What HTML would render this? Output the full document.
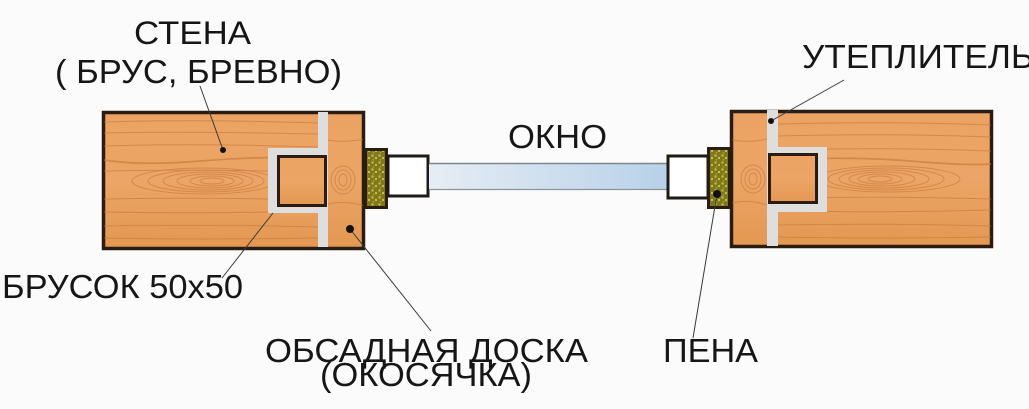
<!DOCTYPE html>
<html>
<head>
<meta charset="utf-8">
<style>
html,body{margin:0;padding:0;background:#fbfbfb;}
svg{display:block;}
text{font-family:"Liberation Sans","Noto Sans CJK SC",sans-serif;fill:#161616;}
</style>
</head>
<body>
<svg width="1029" height="409" viewBox="0 0 1029 409" xmlns="http://www.w3.org/2000/svg">
<defs>
  <linearGradient id="wood" x1="0" y1="0" x2="0" y2="1">
    <stop offset="0" stop-color="#eba363"/>
    <stop offset="0.5" stop-color="#eca566"/>
    <stop offset="1" stop-color="#e39852"/>
  </linearGradient>
  <linearGradient id="glass" x1="0" y1="0" x2="1" y2="0">
    <stop offset="0" stop-color="#e6edf4"/>
    <stop offset="1" stop-color="#b8d1e8"/>
  </linearGradient>
  <pattern id="foam" width="7" height="7" patternUnits="userSpaceOnUse">
    <rect width="7" height="7" fill="#7d781d"/>
    <circle cx="1.5" cy="1.5" r="1.2" fill="#c9b93a"/>
    <circle cx="5" cy="4" r="1.1" fill="#d6c446"/>
    <circle cx="2.5" cy="5.8" r="0.9" fill="#a99c2c"/>
  </pattern>
  <clipPath id="cl1"><rect x="104" y="113" width="214" height="135"/></clipPath>
  <clipPath id="cl2"><rect x="778" y="112" width="213" height="134"/></clipPath>
  <clipPath id="cl3"><rect x="328" y="113" width="35" height="135"/></clipPath>
  <clipPath id="cl4"><rect x="732" y="112" width="35" height="134"/></clipPath>
</defs>

<!-- LEFT BLOCK -->
<rect x="103.5" y="112.5" width="260" height="136" fill="url(#wood)" stroke="#2b1c12" stroke-width="3.5"/>
<g clip-path="url(#cl1)" fill="none" stroke="#c4763a" stroke-width="1" opacity="0.6">
  <path d="M104 122 Q200 119 318 123"/>
  <path d="M104 133 Q180 131 318 134"/>
  <path d="M104 146 Q200 143 318 147"/>
  <path d="M104 160 Q140 166 200 161 T318 158" stroke-width="1.8"/>
  <path d="M104 171 Q200 169 318 172"/>
  <path d="M104 199 Q200 197 318 200"/>
  <path d="M104 212 Q200 214 318 211"/>
  <path d="M104 226 Q200 224 318 227"/>
  <path d="M104 238 Q200 240 318 238"/>
  <ellipse cx="212" cy="181" rx="12" ry="3"/>
  <ellipse cx="212" cy="181" rx="22" ry="5"/>
  <ellipse cx="210" cy="181" rx="33" ry="7"/>
  <ellipse cx="208" cy="181" rx="45" ry="9"/>
  <ellipse cx="206" cy="181" rx="58" ry="11"/>
  <ellipse cx="204" cy="181" rx="72" ry="13"/>
</g>
<g clip-path="url(#cl3)" fill="none" stroke="#c4763a" stroke-width="1" opacity="0.6">
  <ellipse cx="343" cy="180" rx="4" ry="6"/>
  <ellipse cx="343" cy="180" rx="8" ry="10"/>
  <ellipse cx="343" cy="180" rx="12" ry="14"/>
  <path d="M328 204 Q345 200 365 206"/>
  <path d="M328 140 Q345 143 365 139"/>
</g>
<!-- insulation strip & U -->
<rect x="318" y="112" width="10" height="135" fill="#dedede"/>
<rect x="268" y="148" width="50" height="65" fill="#dedede"/>
<rect x="278.5" y="156.5" width="47" height="49" fill="url(#wood)" stroke="#2b1c12" stroke-width="3"/>

<!-- left foam -->
<rect x="365.5" y="149.5" width="21" height="58" fill="url(#foam)" stroke="#2b1c12" stroke-width="3"/>
<!-- left frame -->
<rect x="388" y="156" width="40" height="40" fill="#ffffff" stroke="#1e1a16" stroke-width="3"/>

<!-- glass -->
<rect x="429" y="163" width="238" height="27" fill="url(#glass)"/>
<line x1="429" y1="163.5" x2="667" y2="163.5" stroke="#7e8790" stroke-width="1.5"/>
<line x1="429" y1="189.5" x2="667" y2="189.5" stroke="#8b939b" stroke-width="1.2"/>

<!-- right frame -->
<rect x="668" y="156" width="40" height="42" fill="#ffffff" stroke="#1e1a16" stroke-width="3"/>
<!-- right foam -->
<rect x="708.5" y="148.5" width="21" height="59" fill="url(#foam)" stroke="#2b1c12" stroke-width="3"/>

<!-- RIGHT BLOCK -->
<rect x="731.5" y="111.5" width="260" height="135" fill="url(#wood)" stroke="#2b1c12" stroke-width="3.5"/>
<g clip-path="url(#cl2)" fill="none" stroke="#c4763a" stroke-width="1" opacity="0.6">
  <path d="M778 124 Q880 121 991 125"/>
  <path d="M778 136 Q880 133 991 137"/>
  <path d="M778 150 Q880 147 991 151"/>
  <path d="M778 160 Q850 156 910 161 T991 164" stroke-width="1.8"/>
  <path d="M778 198 Q880 196 991 199"/>
  <path d="M778 211 Q880 213 991 210"/>
  <path d="M778 225 Q880 223 991 226"/>
  <path d="M778 237 Q880 239 991 237"/>
  <ellipse cx="880" cy="179" rx="12" ry="3"/>
  <ellipse cx="880" cy="179" rx="22" ry="5"/>
  <ellipse cx="882" cy="179" rx="33" ry="7"/>
  <ellipse cx="884" cy="179" rx="45" ry="9"/>
  <ellipse cx="886" cy="179" rx="58" ry="11"/>
  <ellipse cx="888" cy="179" rx="72" ry="13"/>
</g>
<g clip-path="url(#cl4)" fill="none" stroke="#c4763a" stroke-width="1" opacity="0.6">
  <ellipse cx="753" cy="179" rx="4" ry="6"/>
  <ellipse cx="753" cy="179" rx="8" ry="10"/>
  <ellipse cx="753" cy="179" rx="12" ry="14"/>
  <path d="M732 203 Q750 199 767 205"/>
  <path d="M732 140 Q750 143 767 139"/>
</g>
<rect x="767" y="110" width="11" height="136" fill="#dedede"/>
<rect x="767" y="147" width="60" height="65" fill="#dedede"/>
<rect x="769.5" y="154.5" width="47" height="48" fill="url(#wood)" stroke="#2b1c12" stroke-width="3"/>

<!-- leader lines -->
<g stroke="#3a3a3a" stroke-width="1" fill="none">
  <line x1="200" y1="86" x2="223" y2="150"/>
  <line x1="273" y1="213" x2="222" y2="278"/>
  <line x1="350" y1="229" x2="431" y2="331"/>
  <line x1="717" y1="194" x2="693" y2="338"/>
  <line x1="771" y1="121" x2="844" y2="80"/>
</g>
<g fill="#111">
  <circle cx="223" cy="150" r="3"/>
  <circle cx="350" cy="229" r="4"/>
  <circle cx="717" cy="194" r="4"/>
  <circle cx="771" cy="121" r="3"/>
</g>

<!-- labels -->
<text x="134" y="44" font-size="32" textLength="117" lengthAdjust="spacingAndGlyphs">СТЕНА</text>
<text x="55" y="83" font-size="33" textLength="287" lengthAdjust="spacingAndGlyphs">( БРУС, БРЕВНО)</text>
<text x="508" y="148" font-size="33" textLength="99" lengthAdjust="spacingAndGlyphs">ОКНО</text>
<text x="802" y="68" font-size="33" textLength="232" lengthAdjust="spacingAndGlyphs">УТЕПЛИТЕЛЬ</text>
<text x="2" y="298" font-size="33" textLength="241" lengthAdjust="spacingAndGlyphs">БРУСОК 50x50</text>
<text x="265" y="362" font-size="33" textLength="323" lengthAdjust="spacingAndGlyphs">ОБСАДНАЯ ДОСКА</text>
<text x="320" y="386" font-size="33" textLength="212" lengthAdjust="spacingAndGlyphs">(ОКОСЯЧКА)</text>
<text x="663" y="362" font-size="33" textLength="95" lengthAdjust="spacingAndGlyphs">ПЕНА</text>
</svg>
</body>
</html>
